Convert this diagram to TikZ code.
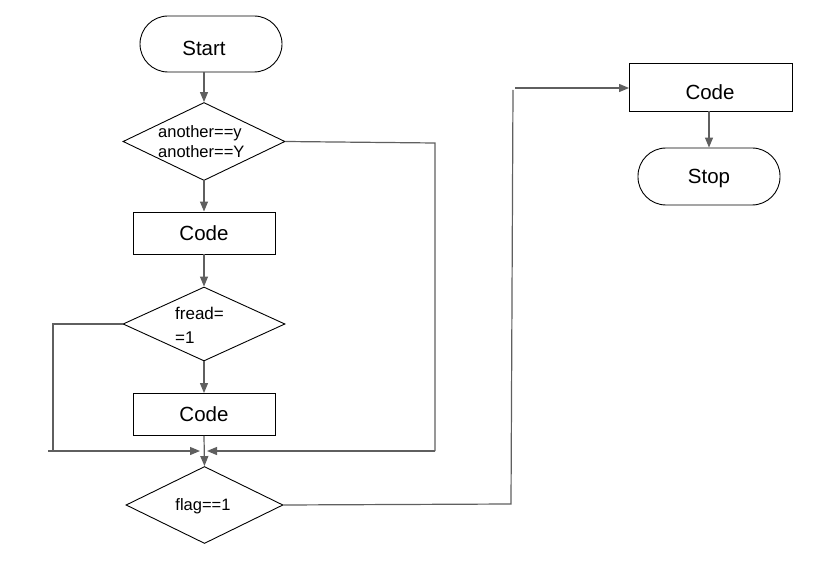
\documentclass[tikz,border=0pt]{standalone}
\usepackage{fontspec}
\setmainfont{Liberation Sans}
\usetikzlibrary{arrows.meta,shapes.geometric}
\definecolor{linegray}{RGB}{95,95,95}
\begin{document}
\begin{tikzpicture}[x=1pt,y=-1pt,
  box/.style={draw=black, line width=0.9pt, minimum width=142pt, minimum height=42pt,
    inner sep=0pt, font=\fontsize{20.5}{24}\selectfont},
  term/.style={box, rounded corners=28pt, minimum height=56pt},
  btext/.style={font=\fontsize{20.5}{24}\selectfont, inner sep=0pt},
  dec/.style={draw=black, line width=0.9pt, shape=diamond, inner sep=0pt,
    minimum width=162pt, minimum height=78pt},
  dtext/.style={font=\fontsize{16.5}{20}\selectfont, align=left, inner sep=0pt},
  flow/.style={draw=linegray, line width=1.2pt, -{Triangle[length=10pt,width=8pt]}},
  wire/.style={draw=linegray, line width=1.2pt},
]
\useasboundingbox (0,0) rectangle (838,580);

% left column
\node[term] (start) at (211,44) {};
\node[btext] (starttxt) at (204,48.5) {Start};
\node[dec] (d1) at (204,141.5) {};
\node[dtext, anchor=west] (d1txt) at (158,142) {another==y\\another==Y};
\node[box] (c1) at (204,233) {Code};
\node[dec, minimum height=74pt] (d2) at (204,324) {};
\node[dtext, anchor=west, font=\fontsize{17}{24}\selectfont] (d2txt) at (175,325) {fread=\\=1};
\node[box] (c2) at (204,414.5) {Code};
\node[dec, minimum width=157pt, minimum height=77pt] (d3) at (204.5,505) {};
\node[dtext] (d3txt) at (203,506) {flag==1};

% right column
\node[box, minimum width=163pt, minimum height=48pt] (c3) at (711,87) {};
\node[btext] (c3txt) at (710,92.5) {Code};
\node[term, minimum height=57pt] (stop) at (709,176.5) {};
\node[btext] (stoptxt) at (709,178.5) {Stop};

% corner points of the loops
\coordinate (lA) at (53,324);
\coordinate (lB) at (53,450);
\coordinate (lC) at (48,451);
\coordinate (mL) at (200,451);
\coordinate (rA) at (435,143);
\coordinate (rB) at (435,451);
\coordinate (mR) at (207,451);
\coordinate (jA) at (511,504);
\coordinate (jB) at (513,90);
\coordinate (jC) at (515,88);

% main flow
\draw[flow] (d1.north |- start.south) -- (d1.north);
\draw[flow] (d1.south) -- (c1.north);
\draw[flow] (c1.south) -- (d2.north);
\draw[flow] (d2.south) -- (c2.north);
\draw[flow] (c2.south) -- (d3.north);
\draw[flow] (c3.south -| stop.north) -- (stop.north);

% loops back to the last test
\draw[wire] (d2.west) -- (lA) -- (lB);
\draw[flow] (lC) -- (mL);
\draw[wire] (d1.east) -- (rA) -- (rB);
\draw[flow] (rB) -- (mR);

% jump to the right column
\draw[wire] (d3.east) -- (jA) -- (jB);
\draw[flow] (jC) -- (c3.west |- jC);
\end{tikzpicture}
\end{document}
